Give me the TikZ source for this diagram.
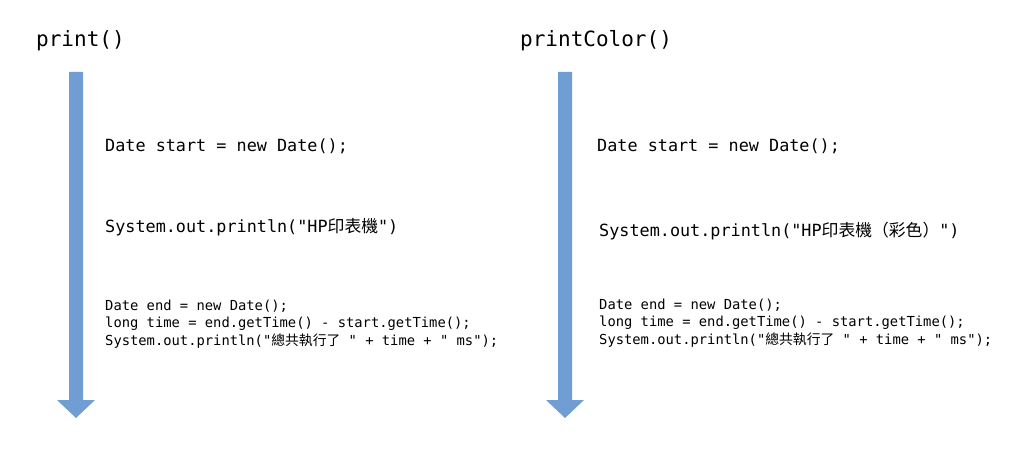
\documentclass[tikz,border=0pt]{standalone}
\usepackage{fontspec}
\setmonofont{DejaVu Sans Mono}
\newfontfamily\cjk{Noto Sans CJK TC}
\definecolor{flowblue}{RGB}{112,157,212}
\newcommand{\timearrow}[1]{%
  \fill[flowblue] ({#1-7},72) -- ({#1+7},72) -- ({#1+7},400) -- ({#1+19},400)
    -- (#1,418) -- ({#1-19},400) -- ({#1-7},400) -- cycle;}
\begin{document}
\begin{tikzpicture}[x=1pt,y=-1pt,
  title/.style={font=\fontsize{21}{25}\selectfont\ttfamily,anchor=base west,inner sep=0pt},
  code/.style={font=\fontsize{16.8}{20}\selectfont\ttfamily,anchor=base west,inner sep=0pt},
  small/.style={font=\fontsize{13.8}{17}\selectfont\ttfamily,anchor=base west,inner sep=0pt}]
  \useasboundingbox (0,0) rectangle (1024,449);
  % time axes
  \foreach \cx in {76,565} {\timearrow{\cx}}
  % left: print()
  \node[title] (printL) at (36,47) {print()};
  \node[code] (startL) at (105,152) {Date start = new Date();};
  \node[code] (outL) at (105,232) {System.out.println("HP{\cjk 印表機}")};
  \node[small] (endL) at (105,310) {Date end = new Date();};
  \node[small] (timeL) at (105,327.5) {long time = end.getTime() - start.getTime();};
  \node[small] (sumL) at (105,345) {System.out.println("{\cjk 總共執行了} " + time + " ms");};
  % right: printColor()
  \node[title] (printR) at (520,47) {printColor()};
  \node[code] (startR) at (597,152) {Date start = new Date();};
  \node[code] (outR) at (599,236) {System.out.println("HP{\cjk 印表機（彩色）}")};
  \node[small] (endR) at (599,309) {Date end = new Date();};
  \node[small] (timeR) at (599,326.5) {long time = end.getTime() - start.getTime();};
  \node[small] (sumR) at (599,344) {System.out.println("{\cjk 總共執行了} " + time + " ms");};
\end{tikzpicture}
\end{document}
